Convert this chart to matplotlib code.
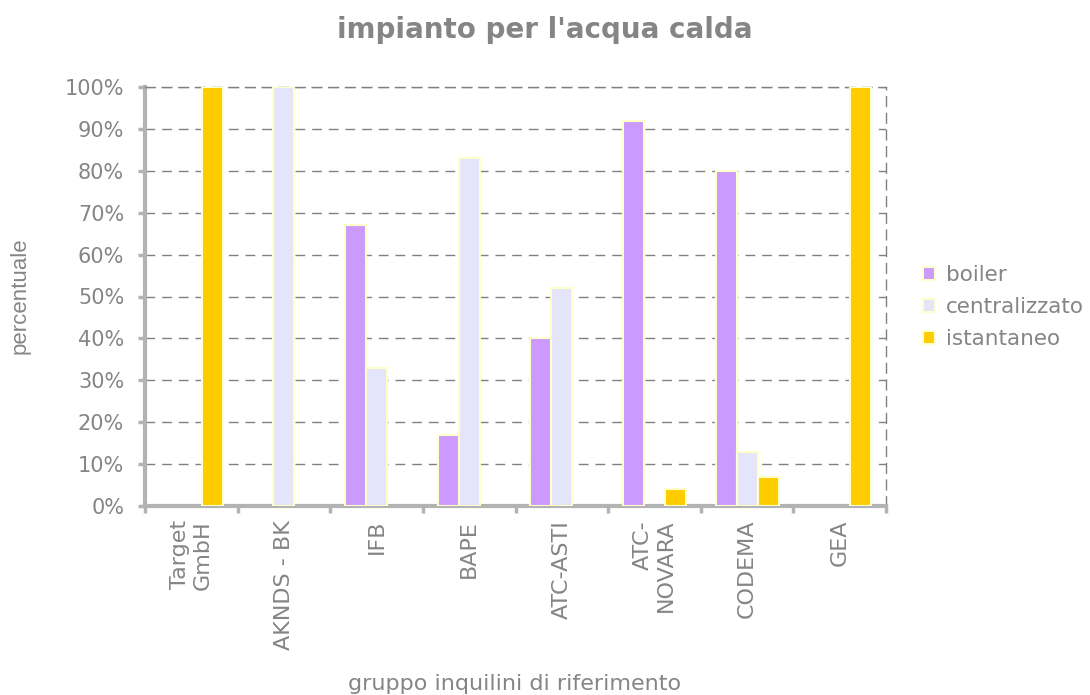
import matplotlib
matplotlib.use("Agg")
import matplotlib.pyplot as plt
import numpy as np

categories = ["Target\nGmbH", "AKNDS - BK", "IFB", "BAPE", "ATC-ASTI", "ATC-\nNOVARA", "CODEMA", "GEA"]
boiler = [0, 0, 67, 17, 40, 92, 80, 0]
centralizzato = [0, 100, 33, 83, 52, 0, 13, 0]
istantaneo = [100, 0, 0, 0, 0, 4, 7, 100]
series_names = ["boiler", "centralizzato", "istantaneo"]
colors = ["#CC99FF", "#E4E4FA", "#FFCC00"]

plt.rcParams['font.family'] = ['DejaVu Sans']
txt = "#858585"

fig = plt.figure(figsize=(10.9, 6.95), dpi=100)
ax = fig.add_axes([145/1090, 1-506/695, (886-145)/1090, (506-87)/695])

x = np.arange(len(categories))
w = 0.227
for i, (vals, name, c) in enumerate(zip([boiler, centralizzato, istantaneo], series_names, colors)):
    vals = np.asarray(vals, dtype=float)
    m = vals > 0
    ax.bar(x[m] + (i-1)*w, vals[m], width=w, color=c, edgecolor="#FFFFCC", linewidth=1.5, label=name, zorder=3)

ax.set_xlim(-0.5, len(categories)-0.5)
ax.set_ylim(0, 100)
ax.set_yticks(np.arange(0, 101, 10))
ax.set_yticklabels([f"{v}%" for v in range(0, 101, 10)], fontsize=15, color=txt)
ax.set_xticks(x)
ax.set_xticklabels(categories, rotation=90, fontsize=16, color=txt, ha="center", va="top", multialignment="right")
ax.set_xticks(np.arange(-0.5, len(categories)), minor=True)
ax.tick_params(axis="x", which="major", length=0, pad=10)
ax.tick_params(axis="x", which="minor", length=5, width=2.5, color="#B3B3B3")
ax.tick_params(axis="y", length=5, width=2.5, color="#B3B3B3", pad=10)

ax.yaxis.grid(True, linestyle=(0, (7, 5)), color="#808080", linewidth=1, zorder=0)
for s in ["left", "bottom"]:
    ax.spines[s].set_color("#B3B3B3")
    ax.spines[s].set_linewidth(3)
for s in ["top", "right"]:
    ax.spines[s].set_color("#808080")
    ax.spines[s].set_linestyle((0, (7, 5)))
    ax.spines[s].set_linewidth(1)

ax.set_ylabel("percentuale", fontsize=16, color=txt, family=["Liberation Sans"], va="center")
ax.yaxis.set_label_coords(-0.169, 0.503)
fig.text(515/1090, 1-684/695, "gruppo inquilini di riferimento", fontsize=16, color=txt,
         ha="center", va="center")
fig.text(545/1090, 1-30/695, "impianto per l'acqua calda", fontsize=20, fontweight="bold", color=txt,
         ha="center", va="center")

leg = ax.legend(loc="center left", bbox_to_anchor=(1.05, 0.475), frameon=False, fontsize=15.5,
                handlelength=0.55, handleheight=0.55, handletextpad=0.5, labelspacing=0.55,
                labelcolor=txt, borderpad=0, borderaxespad=0)

fig.savefig("out.png", dpi=100)
